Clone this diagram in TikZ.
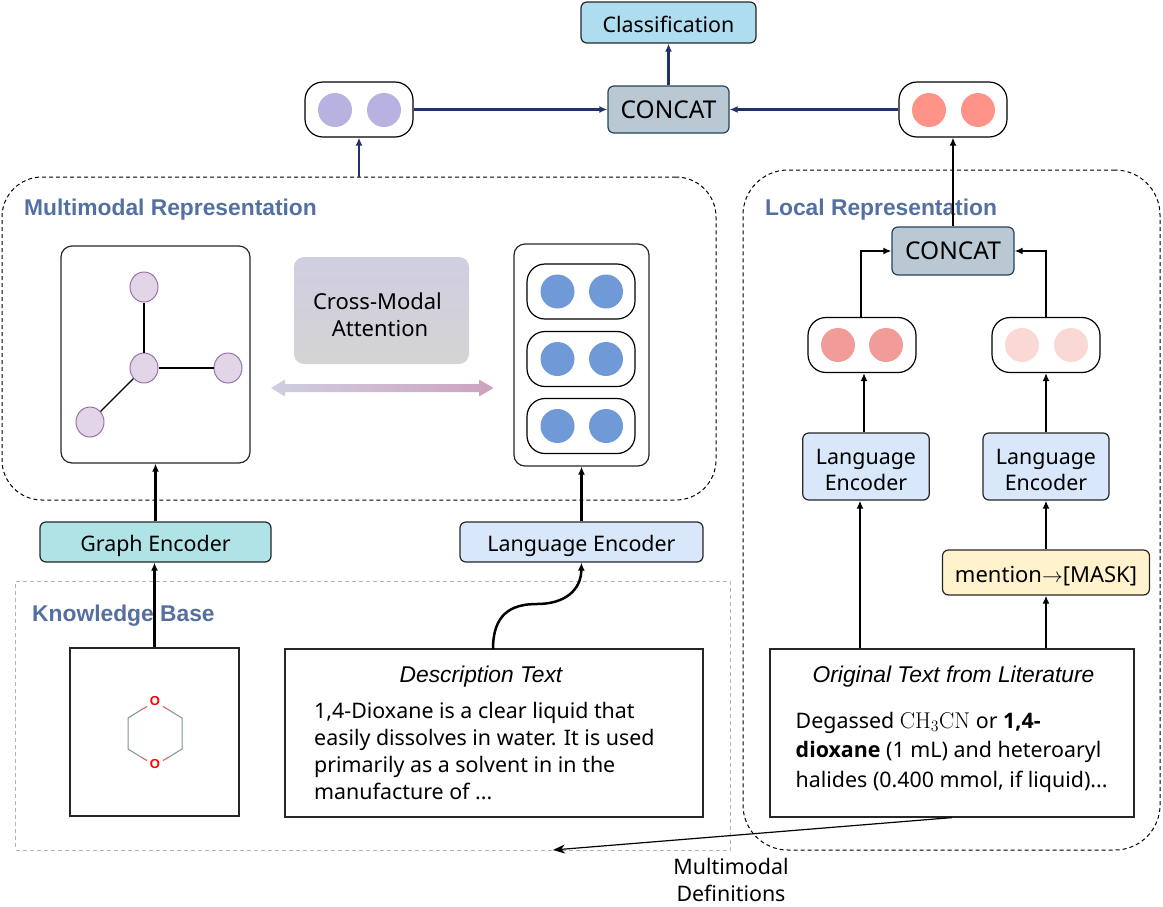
\documentclass[tikz,border=0pt]{standalone}
\usepackage[no-math]{fontspec}
\setmainfont{Noto Sans}
\newfontfamily\arialfont{Liberation Sans}
\newfontfamily\strongfont{Open Sans}
\usepackage{amsmath}
\usetikzlibrary{arrows.meta,shapes.geometric}
\definecolor{navyline}{HTML}{1F3464}
\definecolor{titleblue}{HTML}{5470A0}
\definecolor{concatfill}{HTML}{BAC8D3}
\definecolor{concatline}{HTML}{23445D}
\definecolor{encfill}{HTML}{D8E7FA}
\definecolor{bondgray}{HTML}{7C9494}
\definecolor{classfill}{HTML}{AEDDF0}
\definecolor{graphfill}{HTML}{B0E3E6}
\definecolor{maskfill}{HTML}{FFF2CC}
\definecolor{vertexfill}{HTML}{E1D5E7}
\definecolor{vertexline}{HTML}{9673A6}
\definecolor{attntop}{HTML}{D0CEE2}
\definecolor{attnbot}{HTML}{D4D4D4}
\definecolor{attnend}{HTML}{CDA2BE}
\definecolor{purpledot}{HTML}{B8B2E0}
\definecolor{reddot}{HTML}{FF9388}
\definecolor{middot}{HTML}{F19C99}
\definecolor{paledot}{HTML}{FAD9D5}
\definecolor{bluedot}{HTML}{7099D8}
\newcommand{\lift}[1]{\rule{0pt}{#1pt}}
\tikzset{
	box/.style={draw, line width=1.2pt, inner sep=0pt, align=center, font=\fontsize{21.4}{26.5}\selectfont},
	encbox/.style={box, rounded corners=6pt, draw=black!85},
	oneline/.style={text height=22.4pt, text depth=3pt},
	concatbox/.style={encbox, fill=concatfill, draw=concatline, font=\fontsize{24.5}{27}\selectfont},
	pill/.style={draw, line width=1.2pt, rounded corners=18pt, fill=white, minimum width=108pt, minimum height=55pt, inner sep=0pt},
	dot/.style={circle, inner sep=0pt, minimum size=34pt},
	vertex/.style={ellipse, draw=vertexline, line width=1pt, fill=vertexfill, inner sep=0pt, minimum width=28pt, minimum height=30pt},
	group/.style={draw, line width=1pt, dash pattern=on 4pt off 3pt, inner sep=0pt},
	grouptitle/.style={anchor=west, inner sep=0pt, text=titleblue, font=\arialfont\bfseries\fontsize{22.8}{25}\selectfont},
	heading/.style={inner sep=0pt, font=\arialfont\itshape\fontsize{22.8}{25}\selectfont},
	bodytext/.style={anchor=west, inner sep=0pt, align=left},
	navyarrow/.style={draw=navyline, line width=2.5pt, -{Latex[length=8pt,width=7pt]}},
	blackarrow/.style={line width=2.5pt, -{Latex[length=8pt,width=7pt]}},
}
\begin{document}
\begin{tikzpicture}[x=1pt, y=-1pt]
	\useasboundingbox (0,0) rectangle (1163,906);

	\node[group, rounded corners=40pt, minimum width=714pt, minimum height=323pt] (multirep) at (359,338.5) {};
	\node[group, rounded corners=45pt, minimum width=417pt, minimum height=680pt] (localrep) at (951.5,510) {};
	\node[group, draw=black!30, minimum width=714.5pt, minimum height=269pt] (kb) at (373,715.5) {};
	\node[grouptitle] (multititle) at (24,210) {Multimodal Representation};
	\node[grouptitle] (localtitle) at (765,210) {Local Representation};
	\node[grouptitle] (kbtitle) at (32,616) {Knowledge Base};

	\node[encbox, oneline, fill=classfill, minimum width=175pt, minimum height=41pt] (classif) at (668.5,22.5) {Classification};
	\node[concatbox, minimum width=121pt, minimum height=47pt] (concattop) at (668.5,109.5) {CONCAT};
	\node[concatbox, minimum width=122pt, minimum height=48pt] (concatlocal) at (953,251) {CONCAT};

	\node[pill] (purplepill) at (359,109.5) {};
	\node[pill] (redpill) at (953,109.5) {};
	\node[pill] (pillleft) at (862,345) {};
	\node[pill] (pillright) at (1046,345) {};
	\foreach \cx in {335,384}
		\node[dot, fill=purpledot] (pur\cx) at (\cx,110) {};
	\foreach \cx in {929,978}
		\node[dot, fill=reddot] (red\cx) at (\cx,110) {};
	\foreach \cx in {838,886}
		\node[dot, fill=middot] (mid\cx) at (\cx,345) {};
	\foreach \cx in {1022,1071}
		\node[dot, fill=paledot] (pale\cx) at (\cx,345) {};

	\node[encbox, rounded corners=11pt, minimum width=189pt, minimum height=217pt] (graphbox) at (155.5,354.5) {};
	\node[vertex] (vtop) at (144,287) {};
	\node[vertex] (vmid) at (144,368) {};
	\node[vertex] (vright) at (228,368) {};
	\node[vertex] (vleft) at (90,422) {};
	\draw[line width=1.1pt] (vtop) -- (vmid);
	\draw[line width=1.1pt] (vmid) -- (vright);
	\draw[line width=1.1pt] (vmid) -- (vleft);

	\node[encbox, rounded corners=11pt, minimum width=135pt, minimum height=222pt] (stack) at (581.5,355) {};
	\foreach \cy/\nm in {291.5/a,359/b,426/c} {
		\node[pill] (stack\nm) at (581,\cy) {};
		\foreach \cx in {557.5,606}
			\node[dot, fill=bluedot] (blue\nm\cx) at (\cx,\cy) {};
	}

	\node[box, draw=none, rounded corners=10pt, top color=attntop, bottom color=attnbot, minimum width=175pt, minimum height=107pt, font=\fontsize{22}{27}\selectfont] (attention) at (381.5,310.5) {\lift{25}\hspace*{-8pt}Cross-Modal\\\hspace*{-3pt}Attention};
	\shade[left color=attntop, right color=attnend] (271,388) -- (285,379.5) -- (285,384) -- (479,384) -- (479,379.5) -- (493.5,388) -- (479,396.5) -- (479,392) -- (285,392) -- (285,396.5) -- cycle;

	\node[encbox, fill=encfill, minimum width=126.5pt, minimum height=67pt] (encleft) at (866,466.5) {\lift{22}Language\\Encoder};
	\node[encbox, fill=encfill, minimum width=126pt, minimum height=67pt] (encright) at (1046,466.5) {\lift{22}Language\\Encoder};
	\node[encbox, oneline, fill=maskfill, minimum width=207pt, minimum height=45pt, font=\fontsize{22}{27}\selectfont] (mention) at (1046,572.5) {mention$\rightarrow$[MASK]};
	\node[encbox, oneline, fill=encfill, minimum width=243pt, minimum height=40pt] (langenc) at (581.5,542) {Language Encoder};
	\node[encbox, oneline, fill=graphfill, minimum width=231pt, minimum height=40pt] (graphenc) at (155.5,542) {Graph Encoder};

	\node[box, draw=black!85, fill=white, minimum width=169pt, minimum height=168pt] (molbox) at (154.5,732) {};
	\node[box, draw=black!85, fill=white, minimum width=418pt, minimum height=168pt] (desc) at (494,733) {};
	\node[box, draw=black!85, fill=white, minimum width=364pt, minimum height=168pt] (orig) at (952,733) {};

	\node[text=red, inner sep=0pt, font=\arialfont\bfseries\fontsize{13}{13}\selectfont] (otop) at (155,701) {O};
	\node[text=red, inner sep=0pt, font=\arialfont\bfseries\fontsize{13}{13}\selectfont] (obot) at (155,764) {O};
	\draw[bondgray, line width=1pt] (141,710) -- (128,718) -- (128,749) -- (141,757);
	\draw[bondgray, line width=1pt] (169,710) -- (182,718) -- (182,749) -- (169,757);
	\draw[red!70!white, line width=1pt] (147,706.5) -- (141,710);
	\draw[red!70!white, line width=1pt] (163,706.5) -- (169,710);
	\draw[red!70!white, line width=1pt] (147,760.5) -- (141,757);
	\draw[red!70!white, line width=1pt] (163,760.5) -- (169,757);

	\node[heading] (desctitle) at (481,677) {Description Text};
	\node[bodytext, font=\fontsize{21.4}{27}\selectfont] (descbody) at (314,751.5) {1,4-Dioxane is a clear liquid that\\easily dissolves in water. It is used\\primarily as a solvent in in the\\manufacture of ...};
	\node[heading] (origtitle) at (953.5,677) {Original Text from Literature};
	\node[bodytext, font=\fontsize{21.4}{29.5}\selectfont] (origbody) at (795.5,752) {Degassed \scalebox{1.1}{$\mathrm{CH_3CN}$} or {\strongfont\bfseries 1,4-}\\{\strongfont\bfseries dioxane} (1 mL) and heteroaryl\\halides (0.400 mmol, if liquid)...};
	\node[box, draw=none] (defs) at (731,880) {Multimodal\\Definitions};

	\draw[navyarrow] (multirep.north) -- (purplepill.south);
	\draw[navyarrow] (purplepill.east) -- (concattop.west);
	\draw[navyarrow] (redpill.west) -- (concattop.east);
	\draw[navyarrow] (concattop.north) -- (classif.south);
	\draw[blackarrow] (concatlocal.north) -- (redpill.south);
	\draw[blackarrow] ([xshift=-1pt]pillleft.north) |- (concatlocal.west);
	\draw[blackarrow] (pillright.north) |- (concatlocal.east);
	\draw[blackarrow] ([xshift=-2pt]encleft.north) -- ([xshift=2pt]pillleft.south);
	\draw[blackarrow] (encright.north) -- (pillright.south);
	\draw[blackarrow] (mention.north) -- (encright.south);
	\draw[blackarrow] (mention.south |- orig.north) -- (mention.south);
	\draw[blackarrow] ([xshift=-6pt]encleft.south |- orig.north) -- ([xshift=-6pt]encleft.south);
	\draw[blackarrow] (graphenc.north) -- (graphbox.south);
	\draw[blackarrow] (molbox.north) -- (molbox.north |- graphenc.south);
	\draw[blackarrow] (langenc.north) -- (stack.south);
	\coordinate (descout) at (493,649);
	\draw[blackarrow] (descout) .. controls (493,615) and (510,604) .. (537,604) .. controls (565,604) and (581,590) .. (langenc.south);
	\coordinate (kbend) at (553,850);
	\draw[line width=1.2pt, -{Stealth[length=12pt,width=9pt]}] (orig.south) -- (kbend);
\end{tikzpicture}
\end{document}
